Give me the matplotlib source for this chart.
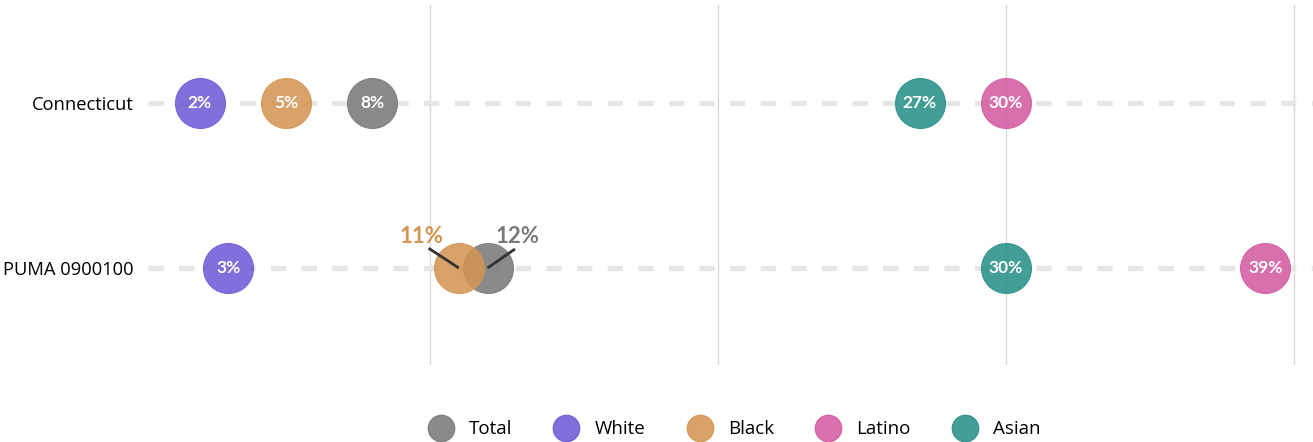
import matplotlib.pyplot as plt
from matplotlib.lines import Line2D

plt.rcParams['font.family'] = ['Open Sans', 'DejaVu Sans']

places = ['PUMA 0900100', 'Connecticut']
groups = ['Total', 'White', 'Black', 'Latino', 'Asian']
colors = ['#7a7a7a', '#6f5cd6', '#d49553', '#d45ca3', '#2a918a']

# percent by group, one list per place (same order as places)
total = [12, 8]
white = [3, 2]
black = [11, 5]
latino = [39, 30]
asian = [30, 27]
values = [total, white, black, latino, asian]

# labels pushed outside the dot because they overlap: (line end dx, dy, text dx)
outside = {(0, 'Total'): (0.95, 0.115, 1.05), (0, 'Black'): (-1.05, 0.12, -1.3)}

fig = plt.figure(figsize=(13.13, 4.42), dpi=100)
ax = fig.add_axes([142 / 1313, 77 / 442, 1 - 142 / 1313, 360 / 442])
ax.set_xlim(0, 40.66)
ax.set_ylim(-0.588, 1.594)

for y in range(len(places)):
    ax.plot([0.2, 40.66], [y, y], color='#e6e6e6', lw=3.8, dashes=(2.9, 2.9),
            solid_capstyle='butt', dash_capstyle='butt', zorder=1)

for g, c, vals in zip(groups, colors, values):
    for y, v in enumerate(vals):
        ax.scatter(v, y, s=1296, color=c, alpha=0.88, lw=0.8,
                   edgecolor=c, zorder=3)
        key = (y, g)
        if key in outside:
            dx, dy, tx = outside[key]
            ax.plot([v, v + dx], [y, y + dy], color='#333333', lw=2,
                    solid_capstyle='butt', zorder=5)
            ax.text(v + tx, y + dy + 0.01, f'{v}%', ha='center', va='bottom',
                    color=c, fontsize=16, fontweight='bold', family='Lato',
                    zorder=5)
        else:
            ax.text(v, y, f'{v}%', ha='center', va='center', color='white',
                    fontsize=12.5, fontweight='bold', family='Lato', zorder=4)

ax.set_xticks([10, 20, 30, 40])
ax.set_xticklabels([])
ax.tick_params(axis='x', length=0)
ax.grid(axis='x', color='#d9d9d9', lw=1)
ax.set_axisbelow(True)
ax.set_yticks(range(len(places)))
ax.set_yticklabels(places, fontsize=13.2)
ax.tick_params(axis='y', length=0, pad=6)
for s in ax.spines.values():
    s.set_visible(False)

handles = [Line2D([], [], marker='o', ls='', markersize=19, color=c, alpha=0.88)
           for c in colors]
fig.legend(handles, groups, loc='center', bbox_to_anchor=(0.557, 0.029),
           ncol=5, frameon=False, fontsize=13.5, handletextpad=0.5,
           columnspacing=1.9)

fig.savefig('out.png', dpi=100)
